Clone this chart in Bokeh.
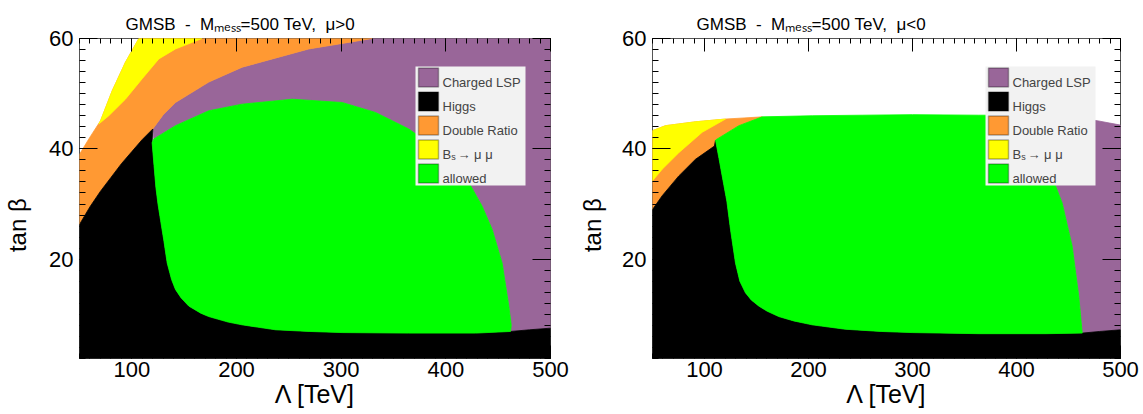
from bokeh.plotting import figure
from bokeh.models import Range1d, LinearAxis, SingleIntervalTicker, Label, BoxAnnotation, Title
from bokeh.layouts import row
from bokeh.embed import file_html
from bokeh.resources import INLINE

FONT = "Liberation Sans"
C_LSP = "#996699"
C_HIGGS = "#000000"
C_DR = "#ff9933"
C_BS = "#ffff00"
C_OK = "#00ff00"

X_LIM = [50, 500]
Y_LIM = [2, 60]
X_TICK_STEP = 100
Y_TICK_STEP = 20

LEGEND_COLORS = [C_LSP, C_HIGGS, C_DR, C_BS, C_OK]
LEGEND_LABELS = ["Charged LSP", "Higgs", "Double Ratio", "B|s|\u2192\u00a0\u03bc\u00a0\u03bc", "allowed"]

TITLE_BASE = "GMSB\u00a0\u00a0-\u00a0\u00a0M\u2098\u2091\u209b\u209b=500\u00a0TeV,\u00a0\u00a0"
TITLE_SIGNS = ["\u03bc>0", "\u03bc<0"]
X_LABEL = "\u039b [TeV]"
Y_LABEL = "tan \u03b2"

# ---------------- mu > 0 panel: region boundaries (Lambda [TeV], tan beta) ----------------
LP_higgs_edge_x = [50, 60, 70, 80, 90, 100, 110, 120]
LP_higgs_edge_y = [26.3, 29.5, 32.3, 34.8, 37.3, 39.5, 41.7, 43.6]

LP_white_edge_x = [50, 58.9, 70.1, 81.2, 93.9, 106.7]
LP_white_edge_y = [39.0, 41.8, 45.1, 50.5, 55.7, 60.0]

LP_bs_edge_x = [68.4, 78.0, 93.9, 109.9, 125.8, 141.7, 167.0]
LP_bs_edge_y = [44.5, 46.0, 49.0, 52.7, 56.3, 58.1, 60.0]

LP_dr_edge_x = [120, 130, 141.7, 173.5, 205.4, 269.0, 329.6]
LP_dr_edge_y = [43.6, 46.2, 48.4, 52.1, 54.8, 58.1, 60.0]

LP_green_left_x = [119.4, 121.2, 123.0, 125.0, 127.5, 130.5, 133.8, 138.0, 141.7, 147.0, 154.4,
                   166.0, 173.5, 192.0, 205.4, 237.3, 270.0, 301.0, 364.6, 428.3, 461.8]
LP_green_left_y = [41.1, 37.0, 33.0, 30.0, 27.0, 23.5, 19.3, 16.3, 14.5, 13.0, 11.5,
                   10.2, 9.6, 8.6, 8.1, 7.2, 6.9, 6.7, 6.6, 6.6, 6.9]

LP_green_right_x = [462.5, 460.2, 453.8, 444.3, 434.7, 422.0, 396.5, 364.6, 332.8,
                    301.0, 253.2, 205.4, 173.5, 141.7, 121.0]
LP_green_right_y = [8.0, 11.5, 19.3, 25.4, 29.6, 33.9, 39.3, 43.6, 46.6,
                    48.4, 49.0, 48.1, 46.9, 44.2, 41.8]

LP_floor_x = [461.8, 480, 500]
LP_floor_y = [6.9, 7.2, 7.5]

# ---------------- mu < 0 panel ----------------
RP_bs_top_x = [50, 62.5, 91.3, 120.2]
RP_bs_top_y = [43.3, 44.2, 44.9, 45.4]

RP_dr_top_x = [120.2, 138.0, 155.5]
RP_dr_top_y = [45.4, 45.6, 45.8]

RP_green_top_x = [155.5, 203.6, 251.6, 300.0, 363.8, 418.0]
RP_green_top_y = [45.8, 46.0, 46.1, 46.2, 46.1, 46.1]

RP_lsp_top_x = [418.0, 440.7, 477.6, 500]
RP_lsp_top_y = [46.1, 46.0, 45.1, 44.3]

RP_bs_edge_x = [50, 59.3, 75.3, 97.8, 120.2]
RP_bs_edge_y = [34.2, 36.3, 39.3, 43.0, 45.4]

RP_higgs_edge_x = [50, 59.3, 75.3, 91.3, 109.5]
RP_higgs_edge_y = [29.0, 31.5, 35.1, 38.1, 40.5]

RP_dr_green_x = [110.6, 133.0, 155.5]
RP_dr_green_y = [41.6, 44.2, 45.8]

RP_green_left_x = [110.6, 114.0, 117.0, 121.5, 125.0, 129.8, 134.0, 139.4, 145.0, 152.2, 160.0,
                   171.4, 186.0, 203.6, 235.6, 270.0, 299.7, 363.8, 427.9, 463.2]
RP_green_left_y = [41.6, 38.2, 35.1, 30.5, 25.4, 19.3, 16.0, 13.9, 12.6, 11.5, 10.6,
                   9.6, 8.8, 8.1, 7.3, 6.9, 6.7, 6.5, 6.5, 6.6]

RP_green_right_x = [463.2, 461.5, 459.9, 453.5, 443.9, 437.5, 430.0, 423.0, 418.0]
RP_green_right_y = [6.6, 10.0, 13.3, 22.4, 30.2, 33.3, 38.0, 42.5, 46.1]

RP_floor_x = [463.2, 480, 500]
RP_floor_y = [6.6, 6.9, 7.2]


def rev(a):
    return list(a)[::-1]


def left_polys():
    lsp = (LP_dr_edge_x + [X_LIM[1]] + rev(LP_floor_x) + LP_green_right_x,
           LP_dr_edge_y + [Y_LIM[1]] + rev(LP_floor_y) + LP_green_right_y)
    dr = (LP_white_edge_x + rev(LP_dr_edge_x) + rev(LP_higgs_edge_x),
          LP_white_edge_y + rev(LP_dr_edge_y) + rev(LP_higgs_edge_y))
    wpts = [(x, y) for x, y in zip(LP_white_edge_x, LP_white_edge_y) if x > LP_bs_edge_x[0]][::-1]
    bs = (LP_bs_edge_x + [q[0] for q in wpts], LP_bs_edge_y + [q[1] for q in wpts])
    higgs = ([X_LIM[0]] + LP_higgs_edge_x + LP_green_left_x + LP_floor_x[1:] + [X_LIM[1]],
             [Y_LIM[0]] + LP_higgs_edge_y + LP_green_left_y + LP_floor_y[1:] + [Y_LIM[0]])
    green = (LP_green_left_x + LP_green_right_x, LP_green_left_y + LP_green_right_y)
    return [(lsp, C_LSP), (dr, C_DR), (bs, C_BS), (higgs, C_HIGGS), (green, C_OK)]


def right_polys():
    lsp = (RP_lsp_top_x + rev(RP_floor_x) + RP_green_right_x[1:],
           RP_lsp_top_y + rev(RP_floor_y) + RP_green_right_y[1:])
    dr = (RP_bs_top_x + RP_dr_top_x[1:] + rev(RP_dr_green_x)[1:] + rev(RP_higgs_edge_x),
          RP_bs_top_y + RP_dr_top_y[1:] + rev(RP_dr_green_y)[1:] + rev(RP_higgs_edge_y))
    bs = (RP_bs_edge_x + rev(RP_bs_top_x)[1:], RP_bs_edge_y + rev(RP_bs_top_y)[1:])
    higgs = ([X_LIM[0]] + RP_higgs_edge_x + RP_green_left_x + RP_floor_x[1:] + [X_LIM[1]],
             [Y_LIM[0]] + RP_higgs_edge_y + RP_green_left_y + RP_floor_y[1:] + [Y_LIM[0]])
    green = (RP_dr_green_x + RP_green_top_x[1:] + rev(RP_green_right_x)[1:] + rev(RP_green_left_x)[1:],
             RP_dr_green_y + RP_green_top_y[1:] + rev(RP_green_right_y)[1:] + rev(RP_green_left_y)[1:])
    return [(lsp, C_LSP), (dr, C_DR), (bs, C_BS), (higgs, C_HIGGS), (green, C_OK)]


def add_axis(p, side, ticker, tick_in, minor_in, labels, label_text=None, label_standoff=0):
    ax = LinearAxis(ticker=ticker)
    ax.axis_line_color = None
    ax.major_tick_in = tick_in
    ax.major_tick_out = 0
    ax.minor_tick_in = minor_in
    ax.minor_tick_out = 0
    ax.major_tick_line_color = "black"
    ax.minor_tick_line_color = "black"
    if labels:
        ax.major_label_text_font = FONT
        ax.major_label_text_font_size = "22px"
        ax.major_label_text_color = "black"
        ax.major_label_standoff = 3 if side == "below" else 6
    else:
        ax.major_label_text_font_size = "1px"
        ax.major_label_text_color = None
        ax.major_label_standoff = 0
    if label_text is not None:
        ax.axis_label = label_text
        ax.axis_label_text_font = FONT
        ax.axis_label_text_font_style = "normal"
        ax.axis_label_text_color = "black"
        ax.axis_label_text_font_size = "25px" if side == "below" else "24px"
        ax.axis_label_standoff = label_standoff
    p.add_layout(ax, side)


def panel(polys, sign, width, bl, br, title_offset, ylab_standoff):
    fw = width - bl - br
    p = figure(width=width, height=414, x_range=Range1d(*X_LIM), y_range=Range1d(*Y_LIM),
               x_axis_type=None, y_axis_type=None, output_backend="svg", toolbar_location=None,
               min_border_left=bl, min_border_right=br, min_border_top=38, min_border_bottom=56)
    p.grid.visible = False
    p.outline_line_color = "#555555"
    p.outline_line_width = 1
    p.background_fill_color = "white"
    p.border_fill_color = "white"

    for (xs, ys), col in polys:
        p.patch(xs, ys, fill_color=col, line_color=col, line_width=0.8)

    xt = SingleIntervalTicker(interval=X_TICK_STEP, num_minor_ticks=10)
    yt = SingleIntervalTicker(interval=Y_TICK_STEP, num_minor_ticks=10)
    add_axis(p, "below", xt, 13, 5, True, X_LABEL, 0)
    add_axis(p, "above", xt, 13, 5, False)
    add_axis(p, "left", yt, 18, 6, True, Y_LABEL + "\u00a0" * 8, ylab_standoff)
    add_axis(p, "right", yt, 18, 6, False)

    p.add_layout(Title(text=TITLE_BASE + sign, align="left", offset=title_offset, standoff=10,
                       text_font=FONT, text_font_size="17px", text_font_style="normal",
                       text_color="black"), "above")

    # legend
    bx_r = fw - 25
    bx_l = bx_r - 110
    p.add_layout(BoxAnnotation(left=bx_l, right=bx_r, top=292, bottom=173,
                               left_units="screen", right_units="screen",
                               top_units="screen", bottom_units="screen",
                               fill_color="#f2f2f2", fill_alpha=1.0, line_color=None))
    for i, (col, lab) in enumerate(zip(LEGEND_COLORS, LEGEND_LABELS)):
        cy = 281 - 24 * i
        p.add_layout(BoxAnnotation(left=bx_l + 3, right=bx_l + 23, top=cy + 9.5, bottom=cy - 9.5,
                                   left_units="screen", right_units="screen",
                                   top_units="screen", bottom_units="screen",
                                   fill_color=col, fill_alpha=1.0, line_color="black", line_width=1.5))
        tx = bx_l + 27
        if "|" in lab:
            main, sub, rest = lab.split("|")
            p.add_layout(Label(x=tx, y=cy - 5, x_units="screen", y_units="screen", text=main,
                               text_font=FONT, text_font_size="13px", text_baseline="alphabetic"))
            p.add_layout(Label(x=tx + 8.7, y=cy - 7.5, x_units="screen", y_units="screen", text=sub,
                               text_font=FONT, text_font_size="9px", text_baseline="alphabetic"))
            p.add_layout(Label(x=tx + 15, y=cy - 5, x_units="screen", y_units="screen", text=rest,
                               text_font=FONT, text_font_size="13px", text_baseline="alphabetic"))
        else:
            p.add_layout(Label(x=tx, y=cy - 5, x_units="screen", y_units="screen", text=lab,
                               text_font=FONT, text_font_size="13px", text_baseline="alphabetic"))
    return p


p1 = panel(left_polys(), TITLE_SIGNS[0], 570, 79, 20, 46, 15)
p2 = panel(right_polys(), TITLE_SIGNS[1], 573, 82, 23, 44, 13)
layout = row(p1, p2, spacing=0)

open("out.html", "w").write(file_html(layout, INLINE))
